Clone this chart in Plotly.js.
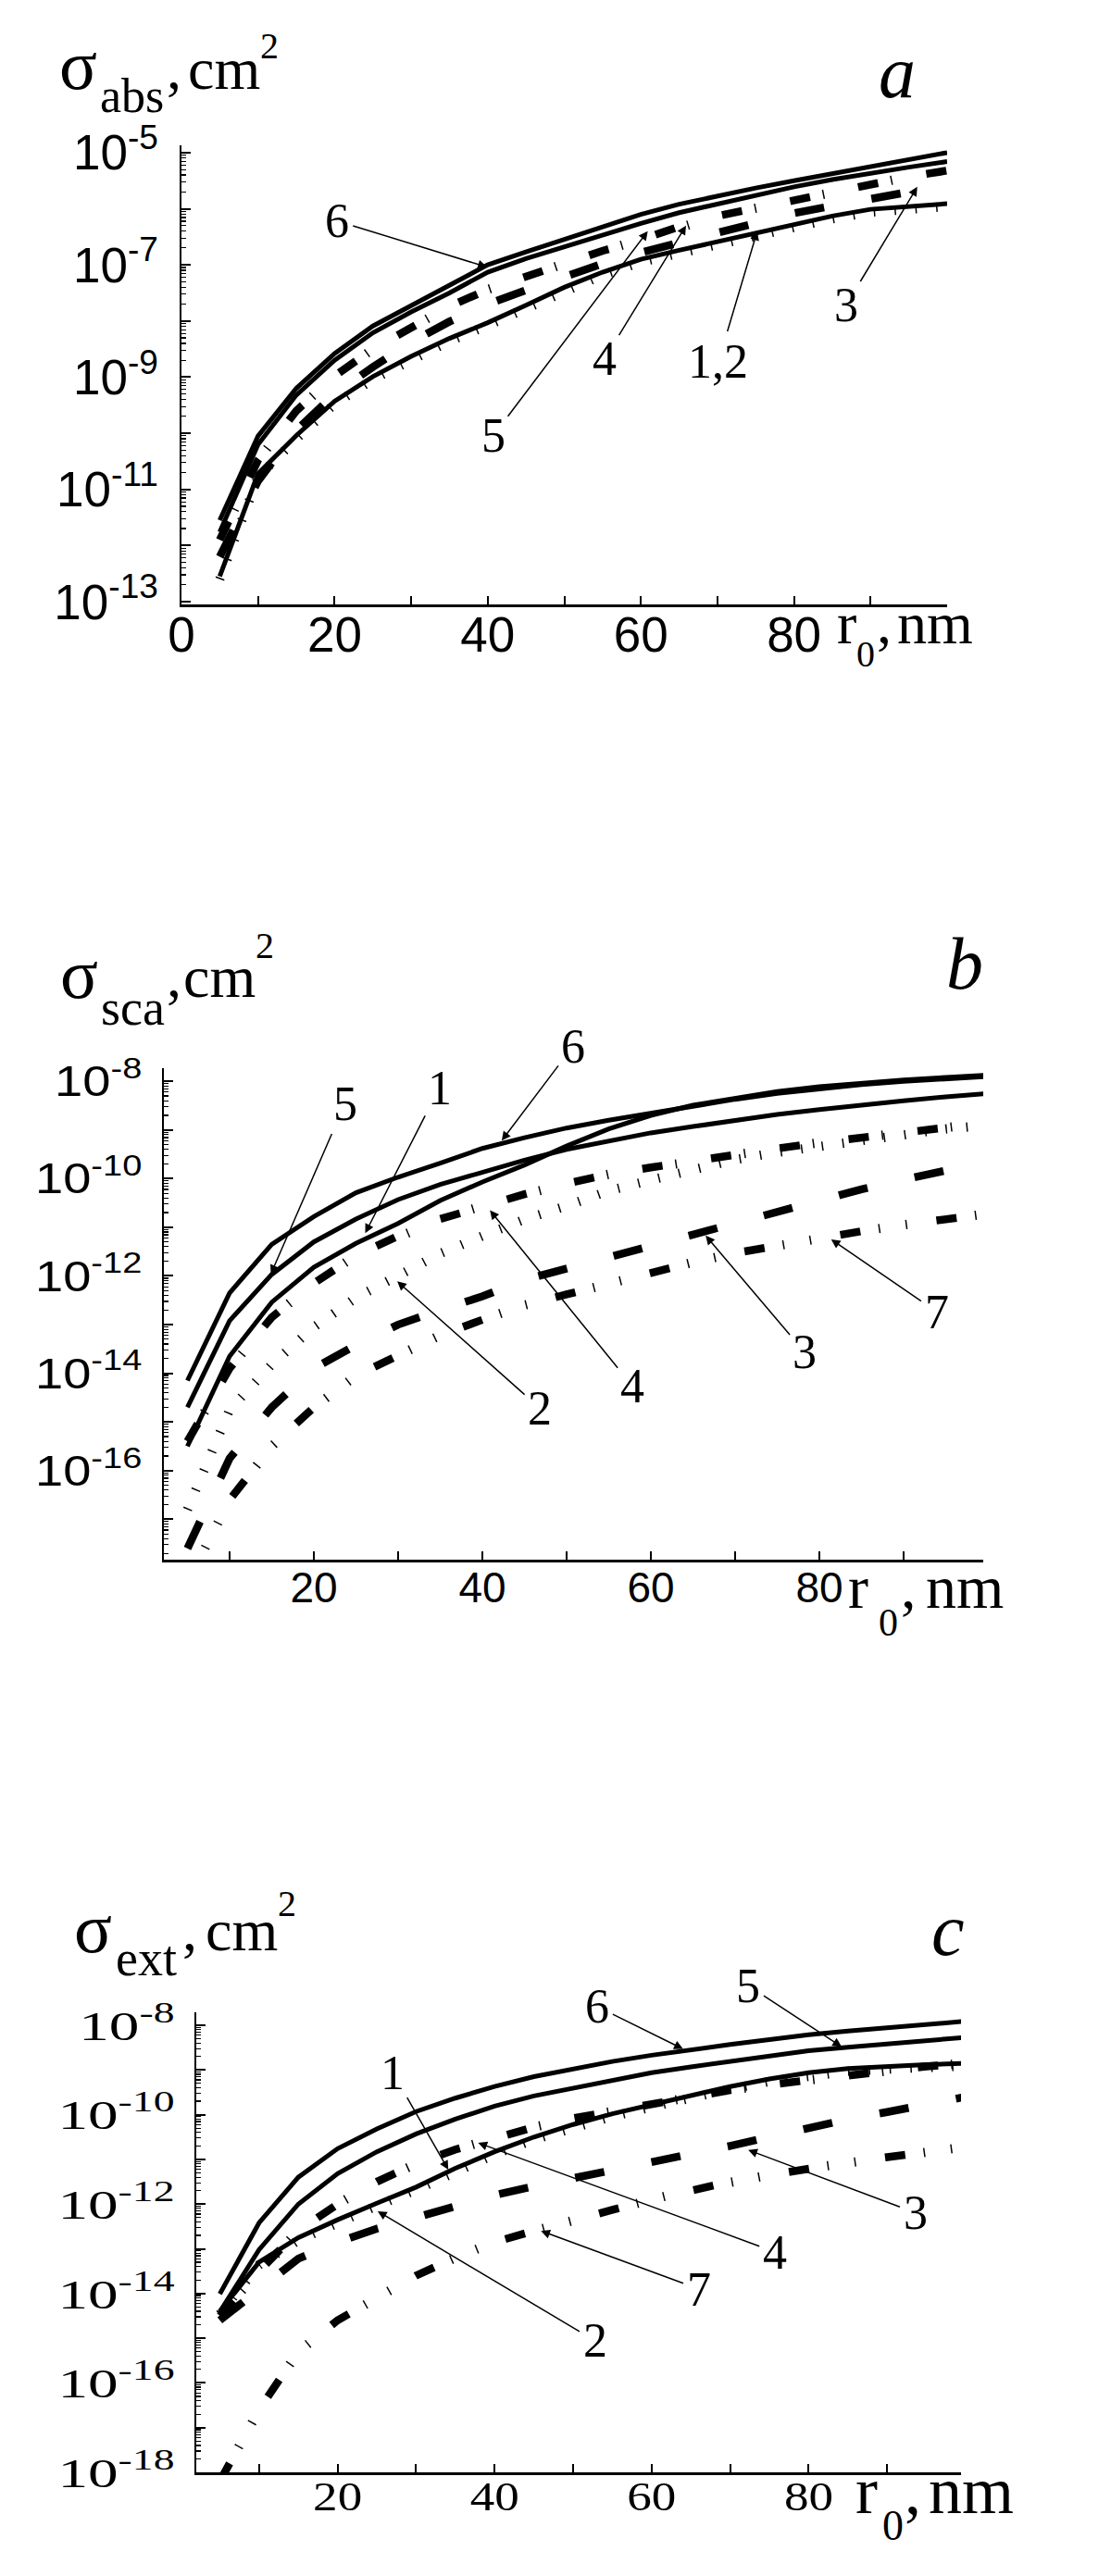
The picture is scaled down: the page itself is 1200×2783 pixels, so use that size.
<!DOCTYPE html>
<html>
<head>
<meta charset="utf-8">
<script src="https://cdn.plot.ly/plotly-3.0.1.min.js"></script>
<style>
html,body{margin:0;padding:0;background:#fff;}
#chart{width:1200px;height:2783px;}
</style>
</head>
<body>
<div id="chart"></div>
<script>
// particle radius r0, nm
const r0 = [5,10,15,20,25,30,35,40,45,50,55,60,65,70,75,80,85,90,95,100];

// ---- panel a: absorption cross-section, log10(sigma_abs / cm^2) ----
const absLog1 = [-12.55,-10.72,-10.04,-9.43,-8.99,-8.63,-8.31,-8.03,-7.72,-7.40,-7.13,-6.90,-6.74,-6.59,-6.43,-6.27,-6.13,-6.01,-5.95,-5.91];
const absLog2 = [-12.60,-10.78,-10.10,-9.48,-9.04,-8.68,-8.36,-8.08,-7.77,-7.45,-7.18,-6.95,-6.79,-6.64,-6.48,-6.32,-6.18,-6.06,-6.00,-5.96];
const absLog3 = [-12.20,-10.85,-9.95,-9.30,-8.82,-8.38,-8.01,-7.70,-7.45,-7.20,-6.98,-6.78,-6.60,-6.41,-6.24,-6.08,-5.95,-5.82,-5.70,-5.60];
const absLog4 = [-11.90,-10.48,-9.60,-8.98,-8.50,-8.10,-7.74,-7.44,-7.20,-6.96,-6.75,-6.55,-6.32,-6.13,-5.99,-5.85,-5.69,-5.55,-5.43,-5.32];
const absLog5 = [-11.76,-10.20,-9.32,-8.70,-8.21,-7.84,-7.50,-7.13,-6.89,-6.68,-6.46,-6.26,-6.07,-5.91,-5.75,-5.61,-5.48,-5.36,-5.26,-5.16];
const absLog6 = [-11.55,-10.05,-9.20,-8.58,-8.09,-7.72,-7.37,-7.00,-6.77,-6.54,-6.31,-6.10,-5.92,-5.77,-5.63,-5.50,-5.37,-5.24,-5.12,-5.00];

// ---- panel b: scattering cross-section, log10(sigma_sca / cm^2) ----
const scaLog1 = [-15.50,-13.65,-12.54,-11.82,-11.33,-10.92,-10.45,-10.07,-9.72,-9.33,-8.98,-8.70,-8.49,-8.34,-8.21,-8.11,-8.03,-7.97,-7.92,-7.87];
const scaLog2 = [-16.80,-14.75,-13.82,-13.05,-12.45,-12.00,-11.54,-11.18,-10.84,-10.56,-10.25,-10.03,-9.81,-9.61,-9.46,-9.33,-9.20,-9.08,-8.98,-8.90];
const scaLog3 = [-17.60,-15.75,-14.70,-13.90,-13.42,-13.00,-12.70,-12.42,-12.08,-11.85,-11.62,-11.38,-11.12,-10.90,-10.68,-10.45,-10.22,-10.02,-9.82,-9.65];
const scaLog4 = [-15.40,-13.90,-12.85,-12.15,-11.58,-11.18,-10.83,-10.56,-10.32,-10.10,-9.91,-9.77,-9.63,-9.50,-9.38,-9.26,-9.15,-9.05,-8.95,-8.85];
const scaLog5 = [-14.70,-12.92,-11.97,-11.30,-10.83,-10.43,-10.12,-9.87,-9.62,-9.40,-9.22,-9.06,-8.93,-8.80,-8.68,-8.58,-8.48,-8.40,-8.32,-8.25];
const scaLog6 = [-14.15,-12.35,-11.35,-10.78,-10.29,-9.97,-9.68,-9.38,-9.16,-8.96,-8.80,-8.65,-8.50,-8.37,-8.25,-8.15,-8.07,-8.00,-7.95,-7.90];
const scaLog7 = [-18.30,-16.60,-15.50,-14.70,-14.05,-13.62,-13.22,-12.90,-12.60,-12.38,-12.15,-11.92,-11.72,-11.53,-11.37,-11.22,-11.08,-10.95,-10.83,-10.72];

// ---- panel c: extinction cross-section, log10(sigma_ext / cm^2) ----
const extLog1 = [-14.40,-13.30,-12.75,-12.35,-11.98,-11.62,-11.20,-10.83,-10.50,-10.22,-9.98,-9.77,-9.56,-9.37,-9.20,-9.06,-8.97,-8.92,-8.88,-8.85];
const extLog2 = [-14.46,-13.36,-12.81,-12.41,-12.04,-11.68,-11.26,-10.89,-10.56,-10.28,-10.04,-9.83,-9.62,-9.43,-9.26,-9.12,-9.03,-8.98,-8.94,-8.91];
const extLog3 = [-14.60,-13.90,-13.22,-12.85,-12.55,-12.30,-12.03,-11.80,-11.60,-11.42,-11.27,-11.06,-10.88,-10.70,-10.50,-10.28,-10.10,-9.94,-9.76,-9.60];
const extLog4 = [-14.50,-13.50,-12.60,-12.00,-11.50,-11.10,-10.78,-10.52,-10.28,-10.08,-9.92,-9.75,-9.60,-9.45,-9.33,-9.22,-9.11,-9.01,-8.92,-8.85];
const extLog5 = [-14.41,-13.02,-12.00,-11.32,-10.83,-10.43,-10.10,-9.81,-9.58,-9.40,-9.22,-9.06,-8.93,-8.81,-8.69,-8.57,-8.49,-8.42,-8.35,-8.27];
const extLog6 = [-14.01,-12.42,-11.40,-10.76,-10.32,-9.93,-9.63,-9.37,-9.15,-8.97,-8.81,-8.67,-8.54,-8.43,-8.32,-8.21,-8.13,-8.06,-7.98,-7.91];
const extLog7 = [-18.20,-16.60,-15.30,-14.60,-14.10,-13.60,-13.20,-12.85,-12.60,-12.35,-12.13,-11.90,-11.68,-11.50,-11.35,-11.20,-11.07,-10.95,-10.83,-10.72];

// tick labels
const xTickValsA = [0,10,20,30,40,50,60,70,80,90];
const xTickTextA = ['0','','20','','40','','60','','80',''];
const xTickValsBC = [10,20,30,40,50,60,70,80,90];
const xTickTextBC = ['','20','','40','','60','','80',''];
const yExpA = [-5,-6,-7,-8,-9,-10,-11,-12,-13];
const yLabA = ['-5','','-7','','-9','','-11','','-13'];
const yExpB = [-8,-9,-10,-11,-12,-13,-14,-15,-16,-17];
const yLabB = ['-8','','-10','','-12','','-14','','-16',''];
const yExpC = [-8,-9,-10,-11,-12,-13,-14,-15,-16,-17,-18];
const yLabC = ['-8','','-10','','-12','','-14','','-16','','-18'];

// curve label annotations: [text, tip r0, tip log10 sigma, dx, dy]
const labelsA = [['6',39.9,-7.04,-162,-50],['5',60.9,-6.40,-167,221],['4',65.9,-6.30,-88,144],['1,2',75.2,-6.40,-42,141],['3',96.1,-5.61,-77,128]];
const labelsB = [['6',42.3,-9.22,77,-102],['5',14.9,-11.96,80,-184],['1',26.1,-11.12,80,-157],['4',40.9,-10.65,154,190],['2',29.9,-12.11,154,137],['3',66.5,-11.17,107,126],['7',81.4,-11.25,114,78]];
const labelsC = [['6',64.0,-8.53,-93,-46],['5',84.2,-8.48,-101,-66],['1',34.1,-11.23,-60,-105],['4',37.9,-10.63,321,118],['3',72.3,-10.79,181,68],['7',45.9,-12.60,171,63],['2',25.1,-12.16,235,140]];

// ------------------------------------------------------------
const W = 1200, H = 2783;
const px = v => v / W;
const py = v => 1 - v / H;
const SERIF = 'Liberation Serif, Times New Roman, serif';
const SANS = 'Liberation Sans, Arial, sans-serif';

const pow10 = arr => arr.map(v => Math.pow(10, v));

const STY = {
  solid: [{width: 5, dash: 'solid'}],
  tick2: [{width: 10, dash: '1.5px,21px'}],
  dash3: [{width: 8.5, dash: '32px,52px'}],
  dash4: [{width: 8.5, dash: '22px,53px'}, {width: 10, dash: '0px,36px,1.5px,37.5px'}],
  dash7: [{width: 8.5, dash: '22px,83px'}, {width: 10, dash: '0px,42px,1.5px,28px,1.5px,32px'}]
};

const traces = [];
function addCurve(xa, ya, logs, style, name) {
  STY[style].forEach(s => {
    traces.push({
      type: 'scatter', mode: 'lines', x: r0, y: pow10(logs),
      xaxis: xa, yaxis: ya, name: name, hoverinfo: 'skip',
      line: {color: '#000', width: s.width, dash: s.dash, shape: 'linear'}
    });
  });
}
addCurve('x','y',absLog1,'solid','1'); addCurve('x','y',absLog2,'tick2','2');
addCurve('x','y',absLog3,'dash3','3'); addCurve('x','y',absLog4,'dash4','4');
addCurve('x','y',absLog5,'solid','5'); addCurve('x','y',absLog6,'solid','6');

addCurve('x2','y2',scaLog1,'solid','1'); addCurve('x2','y2',scaLog2,'tick2','2');
addCurve('x2','y2',scaLog3,'dash3','3'); addCurve('x2','y2',scaLog4,'dash4','4');
addCurve('x2','y2',scaLog5,'solid','5'); addCurve('x2','y2',scaLog6,'solid','6');
addCurve('x2','y2',scaLog7,'dash7','7');

addCurve('x3','y3',extLog1,'solid','1'); addCurve('x3','y3',extLog2,'tick2','2');
addCurve('x3','y3',extLog3,'dash3','3'); addCurve('x3','y3',extLog4,'dash4','4');
addCurve('x3','y3',extLog5,'solid','5'); addCurve('x3','y3',extLog6,'solid','6');
addCurve('x3','y3',extLog7,'dash7','7');

function minorVals(exps) {
  const out = [];
  const lo = Math.min(...exps) - 1, hi = Math.max(...exps);
  for (let k = lo; k <= hi; k++) for (let d = 2; d <= 9; d++) out.push(d * Math.pow(10, k));
  return out;
}

function xAxis(domain, range, vals, text, fam, size, anchor, standoff) {
  return {
    domain: domain, range: range, anchor: anchor, showgrid: false, zeroline: false,
    showline: true, linecolor: '#000', linewidth: 2.5,
    tickmode: 'array', tickvals: vals, ticktext: text,
    ticks: 'inside', ticklen: 9, tickwidth: 2, tickcolor: '#000',
    tickfont: {family: fam, size: size, color: '#000'}, ticklabelstandoff: standoff
  };
}
function yAxis(domain, range, exps, labs, fam, size, anchor) {
  return {
    domain: domain, type: 'log', range: range, anchor: anchor, showgrid: false, zeroline: false,
    showline: true, linecolor: '#000', linewidth: 2.5,
    tickmode: 'array', tickvals: exps.map(e => Math.pow(10, e)),
    ticktext: labs.map(l => l === '' ? '' : '10<sup>' + l + '</sup>'),
    ticks: 'inside', ticklen: 10, tickwidth: 2, tickcolor: '#000',
    minor: {tickmode: 'array', tickvals: minorVals(exps), ticks: 'inside', ticklen: 5, tickwidth: 1.2, tickcolor: '#000'},
    tickfont: {family: fam, size: size, color: '#000'}, ticklabelstandoff: 12
  };
}

const layout = {
  width: W, height: H, margin: {l: 0, r: 0, t: 0, b: 0},
  paper_bgcolor: '#fff', plot_bgcolor: '#fff', showlegend: false,
  xaxis: xAxis([px(196), px(1023)], [0, 100], xTickValsA, xTickTextA, SANS, 53, 'y', -15),
  yaxis: yAxis([py(653), py(157)], [-13.05, -4.87], yExpA, yLabA, SANS, 53, 'x'),
  xaxis2: xAxis([px(177), px(1062)], [2.2, 99.45], xTickValsBC, xTickTextBC, SANS, 46, 'y2', -12),
  yaxis2: yAxis([py(1685), py(1154)], [-17.83, -7.73], yExpB, yLabB, SANS, 46, 'x2'),
  xaxis3: xAxis([px(212), px(1038)], [2.0, 99.4], xTickValsBC, xTickTextBC, SERIF, 45, 'y3', -16),
  yaxis3: yAxis([py(2671), py(2174)], [-18, -7.71], yExpC, yLabC, SERIF, 45, 'x3'),
  annotations: []
};

// text placed by x (anchor) and baseline y (page pixels)
function txt(s, x, base, size, anchor) {
  layout.annotations.push({
    text: s, xref: 'paper', yref: 'paper', x: px(x), y: py(base + 0.216 * size),
    xanchor: anchor || 'center', yanchor: 'bottom', showarrow: false, borderpad: 0,
    font: {family: SERIF, size: size, color: '#000'}
  });
}
// axis titles and panel letters
// panel a
txt('σ', 106, 97, 76, 'right'); txt('abs', 107, 122, 52, 'left'); txt(',', 188, 97, 64);
txt('cm', 202, 97, 64, 'left'); txt('2', 280, 64, 40, 'left');
txt('r', 903, 696, 64, 'left'); txt('0', 924, 721, 40, 'left'); txt(',', 946, 696, 64, 'left'); txt('nm', 968, 696, 64, 'left');
txt('<i>a</i>', 969, 106, 80);
// panel b
txt('σ', 107, 1079, 76, 'right'); txt('sca', 108, 1108, 54, 'left'); txt(',', 188, 1078, 64);
txt('cm', 197, 1078, 64, 'left'); txt('2', 275, 1036, 40, 'left');
txt('r', 915, 1738, 66, 'left'); txt('0', 948, 1768, 42, 'left'); txt(',', 972, 1738, 66, 'left'); txt('nm', 999, 1738, 66, 'left');
txt('<i>b</i>', 1042, 1069, 80);
// panel c
txt('σ', 122, 2110, 76, 'right'); txt('ext', 124, 2135, 54, 'left'); txt(',', 205, 2108, 64);
txt('cm', 221, 2108, 64, 'left'); txt('2', 299, 2071, 40, 'left');
txt('r', 923, 2716, 72, 'left'); txt('0', 952, 2745, 46, 'left'); txt(',', 976, 2716, 72, 'left'); txt('nm', 1002, 2716, 72, 'left');
txt('<i>c</i>', 1024, 2113, 80);

function curveLabels(list, xr, yr) {
  list.forEach(l => {
    layout.annotations.push({
      text: l[0], xref: xr, yref: yr, x: l[1], y: l[2], ax: l[3], ay: l[4],
      showarrow: true, arrowhead: 2, arrowsize: 1.3, arrowwidth: 1.5, arrowcolor: '#000',
      standoff: 0, startstandoff: 4, borderpad: 0,
      font: {family: SERIF, size: 52, color: '#000'}
    });
  });
}
curveLabels(labelsA, 'x', 'y');
curveLabels(labelsB, 'x2', 'y2');
curveLabels(labelsC, 'x3', 'y3');

Plotly.newPlot('chart', traces, layout, {staticPlot: true, displayModeBar: false}).then(gd => {
  // unlabeled major ticks leave empty label nodes behind; drop them
  gd.querySelectorAll('g.xtick text, g.x2tick text, g.x3tick text, g.ytick text, g.y2tick text, g.y3tick text').forEach(el => {
    if (!el.textContent.replace(/\u200b/g, '').trim()) el.remove();
  });
  // the printed figure's tick labels are horizontally widened; stretch the glyphs to match
  const widen = [['g.y2tick text', 1.18], ['g.y3tick text', 1.45], ['g.x3tick text', 1.18]];
  widen.forEach(([sel, f]) => {
    gd.querySelectorAll(sel).forEach(el => {
      const L = el.getComputedTextLength();
      if (L > 0) {
        el.setAttribute('textLength', (L * f).toFixed(1));
        el.setAttribute('lengthAdjust', 'spacingAndGlyphs');
      }
    });
  });
});
</script>
</body>
</html>
